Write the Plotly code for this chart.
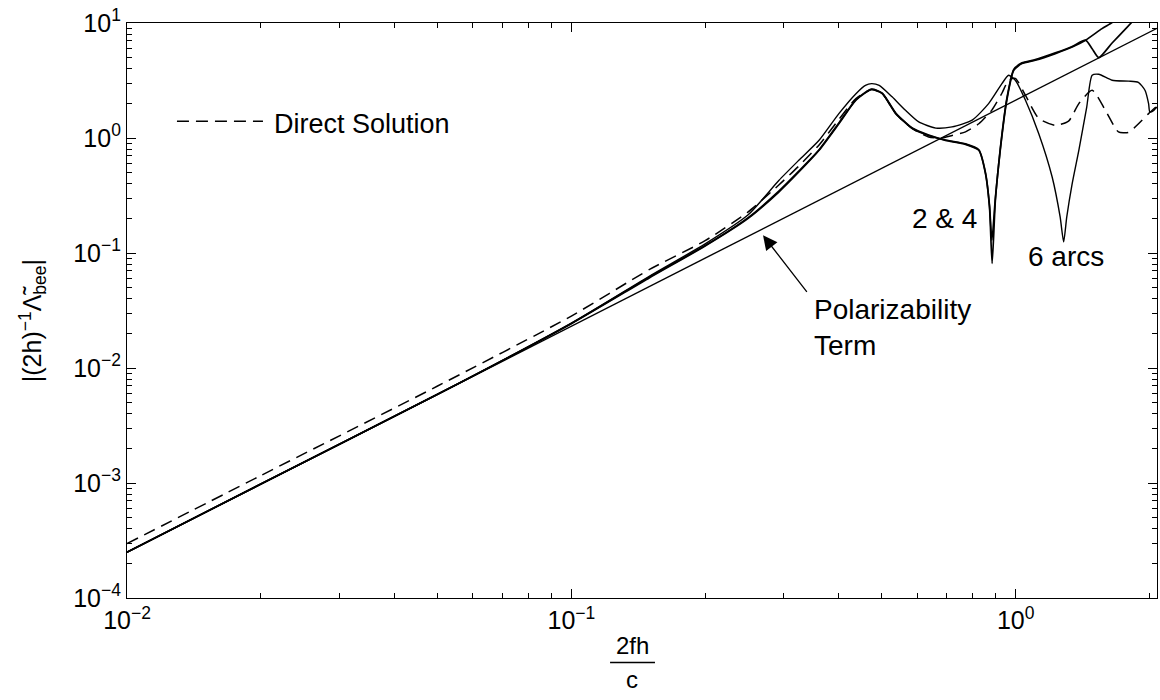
import plotly.graph_objects as go

# ---- data: normalised frequency 2fh/c versus |(2h)^-1 Lambda_bee| ----
pol_x = [0.01, 2.08]
pol_y = [2.5e-4, 9.0]

direct_x = [0.01, 0.02, 0.05, 0.1, 0.15, 0.2, 0.25, 0.293, 0.325, 0.361, 0.4, 0.437,
            0.474, 0.501, 0.537, 0.585, 0.637, 0.68, 0.719, 0.771, 0.826, 0.883, 0.931,
            0.964, 0.998, 1.052, 1.127, 1.228, 1.315, 1.387, 1.486, 1.592, 1.703, 1.795,
            1.858, 1.991, 2.08]
direct_y = [2.97e-4, 1.16e-3, 6.97e-3, 0.0283, 0.072, 0.128, 0.228, 0.39, 0.57, 0.87,
            1.45, 2.2, 2.64, 2.43, 1.63, 1.21, 1.02, 1.0, 1.05, 1.13, 1.33, 1.74, 2.45,
            3.18, 3.30, 2.35, 1.48, 1.29, 1.40, 1.99, 2.60, 1.74, 1.13, 1.12, 1.25, 1.63,
            1.9]

arcs2_x = [0.01, 0.02, 0.05, 0.1, 0.15, 0.2, 0.25, 0.293, 0.325, 0.361, 0.4, 0.437,
           0.474, 0.501, 0.537, 0.585, 0.637, 0.695, 0.771, 0.826, 0.855, 0.873, 0.885,
           0.9, 0.923, 0.955, 0.99, 1.033, 1.107, 1.228, 1.34, 1.436, 1.564, 1.648, 1.75]
arcs2_y = [2.5e-4, 9.8e-4, 5.9e-3, 0.0243, 0.061, 0.115, 0.2, 0.339, 0.506, 0.782,
           1.33, 2.13, 2.64, 2.43, 1.63, 1.21, 1.05, 0.955, 0.881, 0.782, 0.49, 0.251,
           0.081, 0.287, 0.782, 2.13, 3.88, 4.44, 4.74, 5.42, 6.18, 7.08, 8.93, 10.1, 12.0]

arcs4_x = [0.01, 0.02, 0.05, 0.1, 0.15, 0.2, 0.25, 0.293, 0.325, 0.361, 0.4, 0.437,
           0.474, 0.501, 0.537, 0.585, 0.637, 0.695, 0.771, 0.826, 0.855, 0.873, 0.884,
           0.9, 0.923, 0.955, 0.99, 1.033, 1.107, 1.228, 1.34, 1.436, 1.486, 1.538, 1.648,
           1.778, 1.9]
arcs4_y = [2.5e-4, 9.8e-4, 5.9e-3, 0.0245, 0.062, 0.116, 0.203, 0.345, 0.515, 0.79,
           1.35, 2.16, 2.66, 2.45, 1.65, 1.22, 1.06, 0.96, 0.89, 0.79, 0.5, 0.26,
           0.129, 0.3, 0.8, 2.2, 3.95, 4.5, 4.8, 5.5, 6.25, 7.1, 5.98, 5.0, 6.7,
           9.12, 12.0]

arcs6_x = [0.01, 0.02, 0.05, 0.1, 0.15, 0.2, 0.25, 0.293, 0.325, 0.361, 0.4, 0.437,
           0.459, 0.474, 0.493, 0.527, 0.565, 0.605, 0.661, 0.719, 0.798, 0.869, 0.931,
           0.964, 0.998, 1.052, 1.127, 1.208, 1.259, 1.282, 1.303, 1.34, 1.387, 1.445,
           1.486, 1.538, 1.648, 1.795, 1.888, 1.954, 1.991, 2.004, 2.046, 2.08]
arcs6_y = [2.5e-4, 9.8e-4, 5.9e-3, 0.0245, 0.063, 0.12, 0.215, 0.427, 0.64, 0.955,
           1.63, 2.43, 2.87, 2.97, 2.87, 2.28, 1.74, 1.38, 1.22, 1.25, 1.43, 1.99, 2.97,
           3.51, 3.18, 2.13, 1.09, 0.458, 0.206, 0.125, 0.206, 0.401, 0.782, 1.86,
           3.51, 3.58, 3.18, 3.12, 3.05, 2.60, 1.99, 1.68, 1.74, 1.86]

x_tickvals = [0.01, 0.1, 1]
x_ticktext = ["10<sup>−2</sup>", "10<sup>−1</sup>", "10<sup>0</sup>"]
y_tickvals = [1e-4, 1e-3, 1e-2, 1e-1, 1, 10]
y_ticktext = ["10<sup>−4</sup>", "10<sup>−3</sup>", "10<sup>−2</sup>",
              "10<sup>−1</sup>", "10<sup>0</sup>", "10<sup>1</sup>"]

FONT = "Liberation Sans, Arial, Helvetica, sans-serif"
INK = "black"

fig = go.Figure()
fig.add_trace(go.Scatter(x=pol_x, y=pol_y, mode="lines", name="Polarizability Term",
                         line=dict(color=INK, width=1.4)))
fig.add_trace(go.Scatter(x=arcs2_x, y=arcs2_y, mode="lines", name="2 arcs",
                         line=dict(color=INK, width=1.7, shape="spline", smoothing=0.6)))
fig.add_trace(go.Scatter(x=arcs4_x, y=arcs4_y, mode="lines", name="4 arcs",
                         line=dict(color=INK, width=1.7, shape="spline", smoothing=0.6)))
fig.add_trace(go.Scatter(x=arcs6_x, y=arcs6_y, mode="lines", name="6 arcs",
                         line=dict(color=INK, width=1.4, shape="spline", smoothing=0.6)))
fig.add_trace(go.Scatter(x=direct_x, y=direct_y, mode="lines", name="Direct Solution",
                         line=dict(color=INK, width=1.5, dash="12px,7px",
                                   shape="spline", smoothing=0.6)))

axis_common = dict(
    type="log", showline=True, linecolor=INK, linewidth=1.2, mirror="ticks",
    ticks="inside", ticklen=9, tickwidth=1.2, tickcolor=INK, showgrid=False,
    zeroline=False, tickfont=dict(family=FONT, size=25, color=INK),
    minor=dict(ticks="inside", ticklen=5, tickwidth=1, tickcolor=INK,
               dtick="D1", showgrid=False),
)
fig.update_xaxes(range=[-2, 0.318], tickvals=x_tickvals, ticktext=x_ticktext,
                 **axis_common)
fig.update_yaxes(range=[-4, 1], tickvals=y_tickvals, ticktext=y_ticktext,
                 **axis_common)

ann_font = dict(family=FONT, size=28, color=INK)
frac_font = dict(family=FONT, size=24, color=INK)
annotations = [
    # legend entry text
    dict(text="Direct Solution", xref="paper", yref="paper", x=0.1408, y=0.824,
         xanchor="left", yanchor="middle", showarrow=False,
         font=dict(family=FONT, size=27, color=INK)),
    dict(text="2 &amp; 4", xref="paper", yref="paper", x=0.794, y=0.660,
         xanchor="center", yanchor="middle", showarrow=False, font=ann_font),
    dict(text="6 arcs", xref="paper", yref="paper", x=0.912, y=0.5934,
         xanchor="center", yanchor="middle", showarrow=False, font=ann_font),
    dict(text="Polarizability<br>Term", xref="paper", yref="paper", x=0.665, y=0.532,
         xanchor="left", yanchor="top", align="left", showarrow=False, font=ann_font),
    # arrow pointing at the polarizability line
    dict(text="", xref="paper", yref="paper", x=0.6175, y=0.6308, ax=45, ay=58,
         showarrow=True, arrowhead=2, arrowsize=2.2, arrowwidth=1.3, arrowcolor=INK),
    # x-axis fraction label
    dict(text="2fh", xref="paper", yref="paper", x=0.4903, y=-0.110,
         xanchor="center", yanchor="bottom", showarrow=False, font=frac_font),
    dict(text="c", xref="paper", yref="paper", x=0.4903, y=-0.114,
         xanchor="center", yanchor="top", showarrow=False, font=frac_font),
    # y-axis label
    dict(text="|(2h)<sup>−1</sup>Λ̃<sub>bee</sub>|", xref="paper", yref="paper",
         x=-0.0913, y=0.483, xanchor="center", yanchor="middle", textangle=-90,
         showarrow=False, font=dict(family=FONT, size=25, color=INK)),
]

shapes = [
    # legend sample line
    dict(type="line", xref="paper", yref="paper", x0=0.0485, x1=0.132, y0=0.829, y1=0.829,
         line=dict(color=INK, width=1.5, dash="12px,7px")),
    # fraction bar
    dict(type="line", xref="paper", yref="paper", x0=0.469, x1=0.5126, y0=-0.112, y1=-0.112,
         line=dict(color=INK, width=1.5)),
]

fig.update_layout(
    width=1160, height=700,
    margin=dict(l=127, r=3, t=23, b=102),
    paper_bgcolor="white", plot_bgcolor="white",
    showlegend=False,
    annotations=annotations, shapes=shapes,
    font=dict(family=FONT, color=INK),
)

fig.write_html("out.html")
